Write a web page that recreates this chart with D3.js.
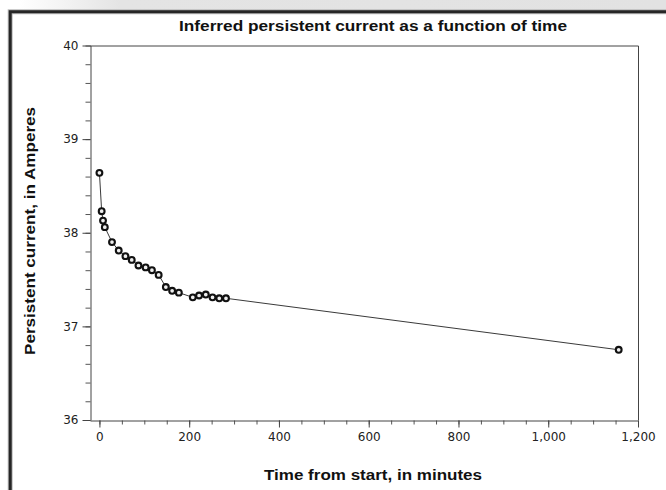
<!DOCTYPE html>
<html>
<head>
<meta charset="utf-8">
<script src="https://cdn.jsdelivr.net/npm/d3@7"></script>
<style>
  html, body { margin: 0; padding: 0; background: #fff; }
  svg { display: block; }
</style>
</head>
<body>
<svg id="chart" width="666" height="490"></svg>
<script>
// ---- data ----
const timeMinutes = [0, 5, 8, 12, 28, 43, 58, 72, 87, 103, 117, 132, 148, 162, 177, 208, 222, 237, 252, 267, 282, 1157];
const currentAmps = [38.64, 38.23, 38.13, 38.06, 37.90, 37.81, 37.75, 37.71, 37.65, 37.63, 37.60, 37.55, 37.42, 37.38, 37.36, 37.31, 37.33, 37.34, 37.31, 37.30, 37.30, 36.75];
const xMajorTicks = [0, 200, 400, 600, 800, 1000, 1200];
const yMajorTicks = [36, 37, 38, 39, 40];
const titleText = "Inferred persistent current as a function of time";
const xLabelText = "Time from start, in minutes";
const yLabelText = "Persistent current, in Amperes";

const svg = d3.select("#chart");

// window chrome: grey band at top and dark frame
const defs = svg.append("defs");
const g1 = defs.append("linearGradient").attr("id", "band").attr("x1", "0").attr("x2", "1").attr("y1", "0").attr("y2", "0");
g1.append("stop").attr("offset", "0%").attr("stop-color", "#ffffff");
g1.append("stop").attr("offset", "3%").attr("stop-color", "#ffffff");
g1.append("stop").attr("offset", "18%").attr("stop-color", "#e4e4e4");
g1.append("stop").attr("offset", "100%").attr("stop-color", "#e2e2e2");
svg.append("rect").attr("x", 0).attr("y", 0).attr("width", 666).attr("height", 11).attr("fill", "url(#band)");
svg.append("path").attr("d", "M10.2,492 V11.7 H668")
  .attr("fill", "none").attr("stroke", "#bbb").attr("stroke-width", 5);
svg.append("path").attr("d", "M10.2,492 V11.7 H668")
  .attr("fill", "none").attr("stroke", "#262626").attr("stroke-width", 3);

// scales
const x = d3.scaleLinear().domain([-21, 1200]).range([90, 638]);
const y = d3.scaleLinear().domain([36, 40]).range([420, 45.5]);

const font = "'DejaVu Sans', Verdana, sans-serif";
const titleFont = "'Liberation Sans', Arial, sans-serif";

// plot frame (top & right)
svg.append("path")
  .attr("d", `M${x.range()[0]},${y(40) + 0.5} H${x.range()[1] + 0.5} V${y(36)}`)
  .attr("fill", "none").attr("stroke", "#444").attr("stroke-width", 1);

// y axis
const yMinor = d3.range(36, 40.001, 0.2).map(v => +v.toFixed(1));
svg.append("g").attr("transform", "translate(90.5,0)")
  .call(d3.axisLeft(y).tickValues(yMinor).tickSize(5).tickFormat(""))
  .call(g => g.select(".domain").remove())
  .call(g => g.selectAll("line").attr("stroke", "#555"));
svg.append("g").attr("transform", "translate(90.5,0)")
  .call(d3.axisLeft(y).tickValues(yMajorTicks).tickSize(8).tickSizeOuter(0).tickPadding(4).tickFormat(d3.format("d")))
  .call(g => g.select(".domain").attr("stroke", "#444"))
  .call(g => g.selectAll("line").attr("stroke", "#444"))
  .call(g => g.selectAll("text").attr("font-family", font).attr("font-size", 12).attr("fill", "#222"));

// x axis
const xMinor = d3.range(0, 1201, 50);
svg.append("g").attr("transform", "translate(0,420.5)")
  .call(d3.axisBottom(x).tickValues(xMinor).tickSize(4).tickFormat(""))
  .call(g => g.select(".domain").remove())
  .call(g => g.selectAll("line").attr("stroke", "#555"));
svg.append("g").attr("transform", "translate(0,420.5)")
  .call(d3.axisBottom(x).tickValues(xMajorTicks).tickSize(7).tickSizeOuter(0).tickPadding(5).tickFormat(d3.format(",")))
  .call(g => g.select(".domain").attr("stroke", "#444"))
  .call(g => g.selectAll("line").attr("stroke", "#444"))
  .call(g => g.selectAll("text").attr("font-family", font).attr("font-size", 12).attr("fill", "#222"));

// data
const data = timeMinutes.map((t, i) => ({ t, v: currentAmps[i] }));
svg.append("path").datum(data)
  .attr("fill", "none").attr("stroke", "#3a3a3a").attr("stroke-width", 1)
  .attr("d", d3.line().x(d => x(d.t)).y(d => y(d.v)));
svg.append("g").selectAll("circle").data(data).join("circle")
  .attr("cx", d => x(d.t)).attr("cy", d => y(d.v)).attr("r", 2.9)
  .attr("fill", "#eeeeee").attr("stroke", "#111").attr("stroke-width", 2.1);

// titles
svg.append("text").attr("x", 373).attr("y", 31).attr("text-anchor", "middle")
  .attr("font-family", titleFont).attr("font-weight", "bold").attr("font-size", 14).attr("fill", "#111")
  .attr("textLength", 388).attr("lengthAdjust", "spacingAndGlyphs")
  .text(titleText);
svg.append("text").attr("x", 373).attr("y", 480).attr("text-anchor", "middle")
  .attr("font-family", titleFont).attr("font-weight", "bold").attr("font-size", 14).attr("fill", "#111")
  .attr("textLength", 218).attr("lengthAdjust", "spacingAndGlyphs")
  .text(xLabelText);
svg.append("text").attr("transform", "translate(35,231) rotate(-90)").attr("text-anchor", "middle")
  .attr("font-family", titleFont).attr("font-weight", "bold").attr("font-size", 14).attr("fill", "#111")
  .attr("textLength", 248).attr("lengthAdjust", "spacingAndGlyphs")
  .text(yLabelText);
</script>
</body>
</html>
